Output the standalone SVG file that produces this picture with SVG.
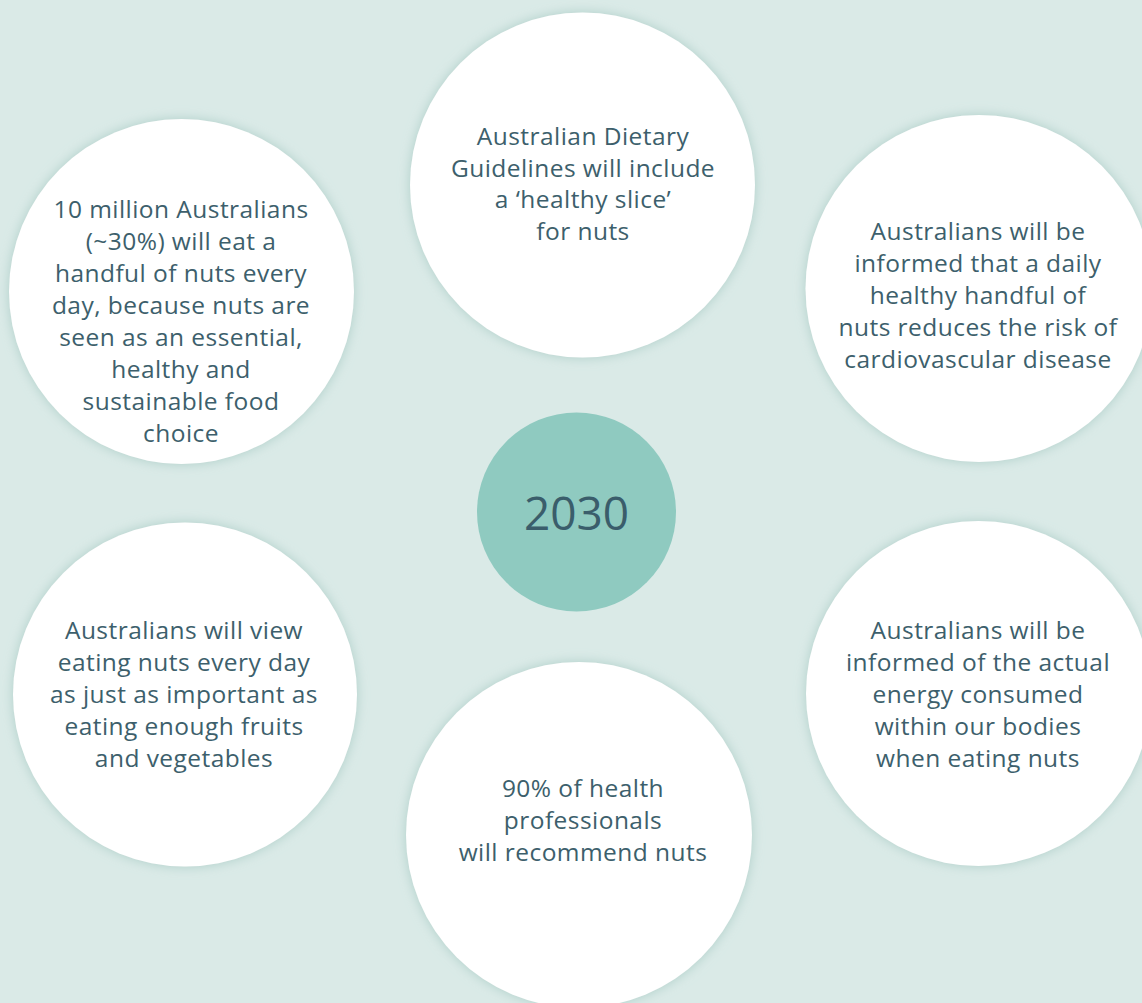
<svg xmlns="http://www.w3.org/2000/svg" width="1142" height="1003" viewBox="0 0 1142 1003">
<defs>
<filter id="sh" x="-20%" y="-20%" width="140%" height="140%">
<feGaussianBlur in="SourceAlpha" stdDeviation="6"/>
<feOffset dx="0" dy="0" result="b"/>
<feFlood flood-color="#a9cbc5" flood-opacity="0.9"/>
<feComposite in2="b" operator="in"/>
<feMerge><feMergeNode/><feMergeNode in="SourceGraphic"/></feMerge>
</filter>
</defs>
<style>
.c{fill:#ffffff;filter:url(#sh)}
.t{font-family:"Open Sans","Noto Sans","Liberation Sans",sans-serif;font-size:24.5px;letter-spacing:0.45px;fill:#3d5f6c;text-anchor:middle}
.y{font-family:"Open Sans","Noto Sans","Liberation Sans",sans-serif;font-size:46px;fill:#3a5d6b;text-anchor:middle}
</style>
<rect x="0" y="0" width="1142" height="1003" fill="#daeae7"/>
<g id="connectors"></g>
<g id="node-guidelines">
<circle class="c" cx="582.5" cy="185" r="172.5"/>
<text class="t" x="583" y="145">Australian Dietary</text>
<text class="t" x="583" y="177">Guidelines will include</text>
<text class="t" x="583" y="208">a ‘healthy slice’</text>
<text class="t" x="583" y="240">for nuts</text>
</g>
<g id="node-ten-million">
<circle class="c" cx="181.5" cy="291.5" r="172.5"/>
<text class="t" x="181" y="218">10 million Australians</text>
<text class="t" x="181" y="250">(~30%) will eat a</text>
<text class="t" x="181" y="282">handful of nuts every</text>
<text class="t" x="181" y="314">day, because nuts are</text>
<text class="t" x="181" y="346">seen as an essential,</text>
<text class="t" x="181" y="378">healthy and</text>
<text class="t" x="181" y="410">sustainable food</text>
<text class="t" x="181" y="442">choice</text>
</g>
<g id="node-cardio">
<circle class="c" cx="979" cy="288.5" r="173.5"/>
<text class="t" x="978" y="240">Australians will be</text>
<text class="t" x="978" y="272">informed that a daily</text>
<text class="t" x="978" y="304">healthy handful of</text>
<text class="t" x="978" y="336">nuts reduces the risk of</text>
<text class="t" x="978" y="368">cardiovascular disease</text>
</g>
<g id="node-view">
<circle class="c" cx="185" cy="694.5" r="172"/>
<text class="t" x="184" y="639">Australians will view</text>
<text class="t" x="184" y="671">eating nuts every day</text>
<text class="t" x="184" y="703">as just as important as</text>
<text class="t" x="184" y="735">eating enough fruits</text>
<text class="t" x="184" y="767">and vegetables</text>
</g>
<g id="node-energy">
<circle class="c" cx="978.5" cy="693.5" r="172.5"/>
<text class="t" x="978" y="639">Australians will be</text>
<text class="t" x="978" y="671">informed of the actual</text>
<text class="t" x="978" y="703">energy consumed</text>
<text class="t" x="978" y="735">within our bodies</text>
<text class="t" x="978" y="767">when eating nuts</text>
</g>
<g id="node-professionals">
<circle class="c" cx="579" cy="835" r="173"/>
<text class="t" x="583" y="797">90% of health</text>
<text class="t" x="583" y="829">professionals</text>
<text class="t" x="583" y="861">will recommend nuts</text>
</g>
<g id="node-2030">
<circle cx="576.5" cy="512" r="99.5" fill="#8fcac0"/>
<text class="y" x="576.5" y="530">2030</text>
</g>
</svg>
